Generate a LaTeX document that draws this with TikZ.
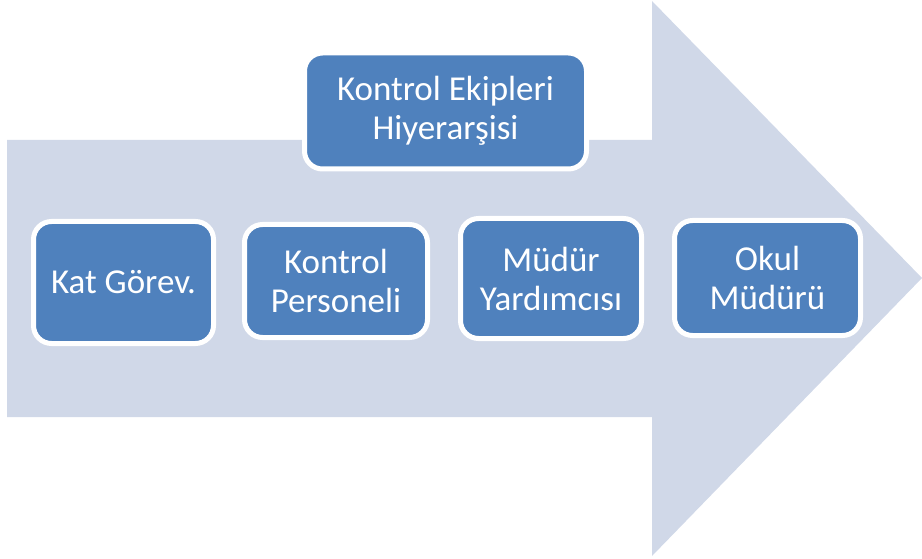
\documentclass[tikz,border=0pt]{standalone}
\usepackage{fontspec}
\setmainfont{Carlito}
\definecolor{arrowfill}{HTML}{D0D8E8}
\definecolor{boxfill}{HTML}{4F81BD}
\begin{document}
\begin{tikzpicture}[x=1pt,y=-1pt,
  stage/.style={draw=white, line width=5pt, fill=boxfill, rounded corners=18pt,
    text=white, align=center, inner sep=0pt,
    font=\fontsize{35}{39}\selectfont}]
\useasboundingbox (0,0) rectangle (922,559);
\fill[arrowfill] (7,140) -- (652,140) -- (652,1) -- (922,278) -- (652,556) -- (652,417) -- (7,417) -- cycle;
\node[stage, minimum width=282pt, minimum height=116pt] (top) at (445.5,111) {Kontrol Ekipleri\\Hiyerarşisi};
\node[stage, minimum width=180pt, minimum height=122pt] (kat) at (123.5,282.5) {Kat Görev.};
\node[stage, minimum width=183pt, minimum height=113pt] (kp) at (336,281) {Kontrol\\Personeli};
\node[stage, minimum width=181pt, minimum height=120pt] (my) at (551,278.5) {Müdür\\Yardımcısı};
\node[stage, minimum width=186pt, minimum height=115pt] (om) at (767.5,278) {Okul\\Müdürü};
\end{tikzpicture}
\end{document}
